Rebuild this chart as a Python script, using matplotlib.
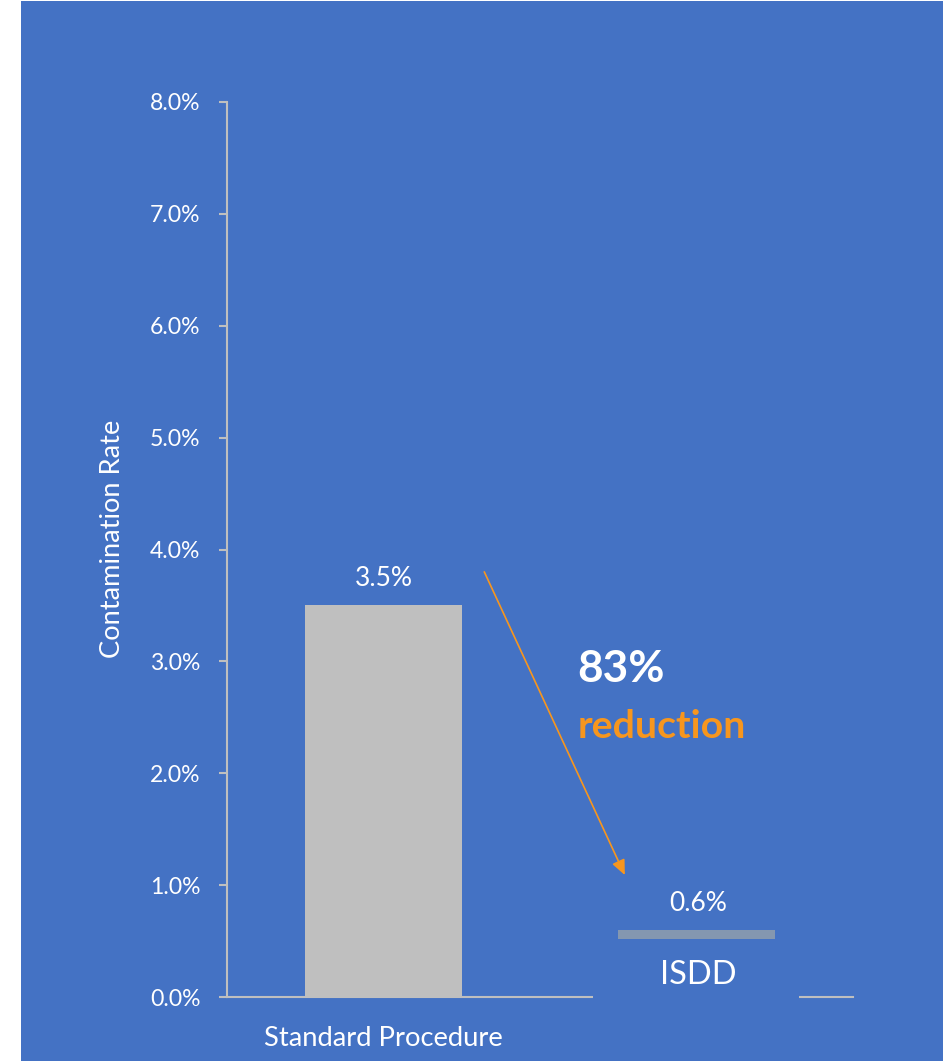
import matplotlib
matplotlib.use("Agg")
import matplotlib.pyplot as plt
from matplotlib.patches import Rectangle

categories = ["Standard Procedure", "ISDD"]
values = [3.5, 0.6]
value_labels = ["3.5%", "0.6%"]
yticks = [0, 1, 2, 3, 4, 5, 6, 7, 8]
ytick_labels = ["0.0%", "1.0%", "2.0%", "3.0%", "4.0%", "5.0%", "6.0%", "7.0%", "8.0%"]
ylabel = "Contamination Rate"
headline = "83%"
subline = "reduction"

BLUE = "#4472C4"
GRAY = "#BFBFBF"
ISDD_GRAY = "#8497B0"
ORANGE = "#F7961E"

plt.rcParams['font.family'] = ['Lato', 'DejaVu Sans']

fig = plt.figure(figsize=(9.43, 10.61), dpi=100, facecolor="white")
fig.patches.append(Rectangle((21/943, 0), 1 - 21/943, 1060/1061, transform=fig.transFigure,
                             facecolor=BLUE, edgecolor="none", zorder=-10))

ax = fig.add_axes([227/943, 64/1061, (853-227)/943, (997-102)/1061])
ax.set_zorder(1)
ax.set_facecolor("none")

x = [0, 1]
ax.bar(x, values, width=0.5, color=[GRAY, ISDD_GRAY], zorder=1)

ax.set_xlim(-0.5, 1.5)
ax.set_ylim(0, 8)
ax.set_yticks(yticks)
ax.set_yticklabels(ytick_labels)
ax.set_xticks([0])
ax.set_xticklabels([categories[0]])

for s in ["top", "right"]:
    ax.spines[s].set_visible(False)
for s in ["left", "bottom"]:
    ax.spines[s].set_color(GRAY)
    ax.spines[s].set_linewidth(1.5)

ax.tick_params(axis="y", colors=GRAY, labelcolor="white", labelsize=16.6, length=6, width=1.5, pad=13)
ax.tick_params(axis="x", length=0, labelcolor="white", labelsize=19.7, pad=21)
ax.set_ylabel(ylabel, color="white", fontsize=19.6, labelpad=0)
ax.yaxis.set_label_coords((125 - 227) / 626, 0.512)

# value labels
ax.text(0, 3.745, value_labels[0], color="white", fontsize=19, ha="center", va="center")
ax.text(1.005, 0.84, value_labels[1], color="white", fontsize=19, ha="center", va="center")

# mask over lower part of ISDD bar and axis
ax.add_patch(Rectangle((0.669, -0.15), 1.328 - 0.669, 0.518 + 0.15, facecolor=BLUE,
                       edgecolor="none", zorder=3, clip_on=False))
ax.text(1.006, 0.20, categories[1], color="white", fontsize=23.5, ha="center", va="center", zorder=4)

# arrow
ax.annotate("", xy=(0.771, 1.09), xytext=(0.322, 3.80),
            arrowprops=dict(arrowstyle="-|>,head_length=0.9,head_width=0.4", color=ORANGE, lw=1.2,
                            shrinkA=0, shrinkB=0))

ax.text(0.620, 2.93, headline, color="white", fontsize=31.8, fontweight="bold", ha="left", va="center")
ax.text(0.620, 2.42, subline, color=ORANGE, fontsize=28.3, fontweight="bold", ha="left", va="center")

fig.savefig("out.png", dpi=100, facecolor="white")
